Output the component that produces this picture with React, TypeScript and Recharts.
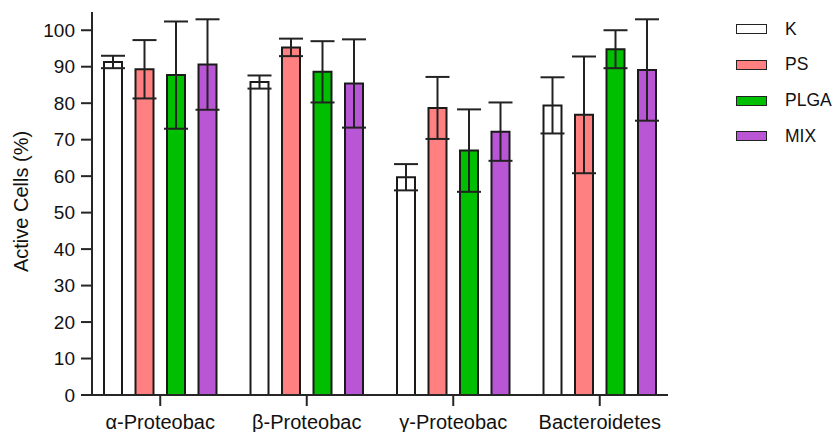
import React from "react";
import { BarChart, Bar, XAxis, YAxis, ErrorBar } from "recharts";

// groups on the x axis
const groups = ["α-Proteobac", "β-Proteobac", "γ-Proteobac", "Bacteroidetes"];

// mean active cells (%) per treatment
const kValues = [91.3, 85.8, 59.7, 79.4];
const psValues = [89.3, 95.3, 78.7, 76.8];
const plgaValues = [87.7, 88.6, 67.0, 94.8];
const mixValues = [90.6, 85.4, 72.2, 89.1];

// error bar half-lengths
const kErr = [1.7, 1.8, 3.6, 7.7];
const psErr = [8.0, 2.4, 8.5, 16.0];
const plgaErr = [14.7, 8.4, 11.3, 5.2];
const mixErr = [12.4, 12.1, 8.0, 13.9];

const yTicks = [0, 10, 20, 30, 40, 50, 60, 70, 80, 90, 100];

const series = [
  { key: "K", fill: "#FFFFFF" },
  { key: "PS", fill: "#FF8080" },
  { key: "PLGA", fill: "#00BE00" },
  { key: "MIX", fill: "#B956D6" },
];

const data = groups.map((g, i) => ({
  group: g,
  K: kValues[i],
  PS: psValues[i],
  PLGA: plgaValues[i],
  MIX: mixValues[i],
  KErr: kErr[i],
  PSErr: psErr[i],
  PLGAErr: plgaErr[i],
  MIXErr: mixErr[i],
}));

const FONT = "'Liberation Sans', Arial, sans-serif";
const AXIS = "#262626";

// legend sits to the right of the plot, outside the svg layout
const LegendBox = () => (
  <div
    style={{
      position: "absolute",
      left: 736,
      top: 11.5,
      fontFamily: FONT,
    }}
  >
    {series.map((s) => (
      <div
        key={s.key}
        style={{ display: "flex", alignItems: "center", height: 35.7 }}
      >
        <div
          style={{
            boxSizing: "border-box",
            width: 31,
            height: 10,
            background: s.fill,
            border: "1.5px solid #222",
            marginRight: 18,
          }}
        />
        <span style={{ fontSize: 17.5, color: "#111", lineHeight: 1 }}>
          {s.key}
        </span>
      </div>
    ))}
  </div>
);

const YLabel = (props: any) => {
  const vb = props.viewBox || { y: 0, height: 0 };
  const cy = vb.y + vb.height / 2 - 2;
  return (
    <text
      x={28}
      y={cy}
      transform={`rotate(-90 28 ${cy})`}
      textAnchor="middle"
      fontSize={20}
      fontFamily={FONT}
      fill="#111"
    >
      Active Cells (%)
    </text>
  );
};

const App: React.FC = () => {
  return (
    <div
      style={{
        position: "absolute",
        left: 0,
        top: 0,
        width: 840,
        height: 432,
        background: "#fff",
      }}
    >
      <BarChart
        width={840}
        height={432}
        data={data}
        margin={{ top: 12, right: 172, bottom: 0, left: 0 }}
        barSize={18}
        barGap={13.5}
      >
        <XAxis
          dataKey="group"
          height={37}
          padding={{ left: -5, right: -5 }}
          axisLine={{ stroke: AXIS, strokeWidth: 2 }}
          tickLine={{ stroke: AXIS, strokeWidth: 2 }}
          tickSize={11}
          tickMargin={9}
          tick={{ fontSize: 20, fontFamily: FONT, fill: "#111" }}
          interval={0}
        />
        <YAxis
          width={92}
          domain={[0, 105]}
          ticks={yTicks}
          allowDataOverflow
          axisLine={{ stroke: AXIS, strokeWidth: 2 }}
          tickLine={{ stroke: AXIS, strokeWidth: 2 }}
          tickSize={11}
          tickMargin={6}
          tick={{ fontSize: 19, fontFamily: FONT, fill: "#111" }}
          label={<YLabel />}
        />
        {series.map((s) => (
          <Bar
            key={s.key}
            dataKey={s.key}
            fill={s.fill}
            stroke="#1a1a1a"
            strokeWidth={2}
            isAnimationActive={false}
          >
            <ErrorBar
              dataKey={`${s.key}Err`}
              width={12}
              stroke="#222"
              strokeWidth={2}
              isAnimationActive={false}
            />
          </Bar>
        ))}
      </BarChart>
      <LegendBox />
    </div>
  );
};

export default App;
